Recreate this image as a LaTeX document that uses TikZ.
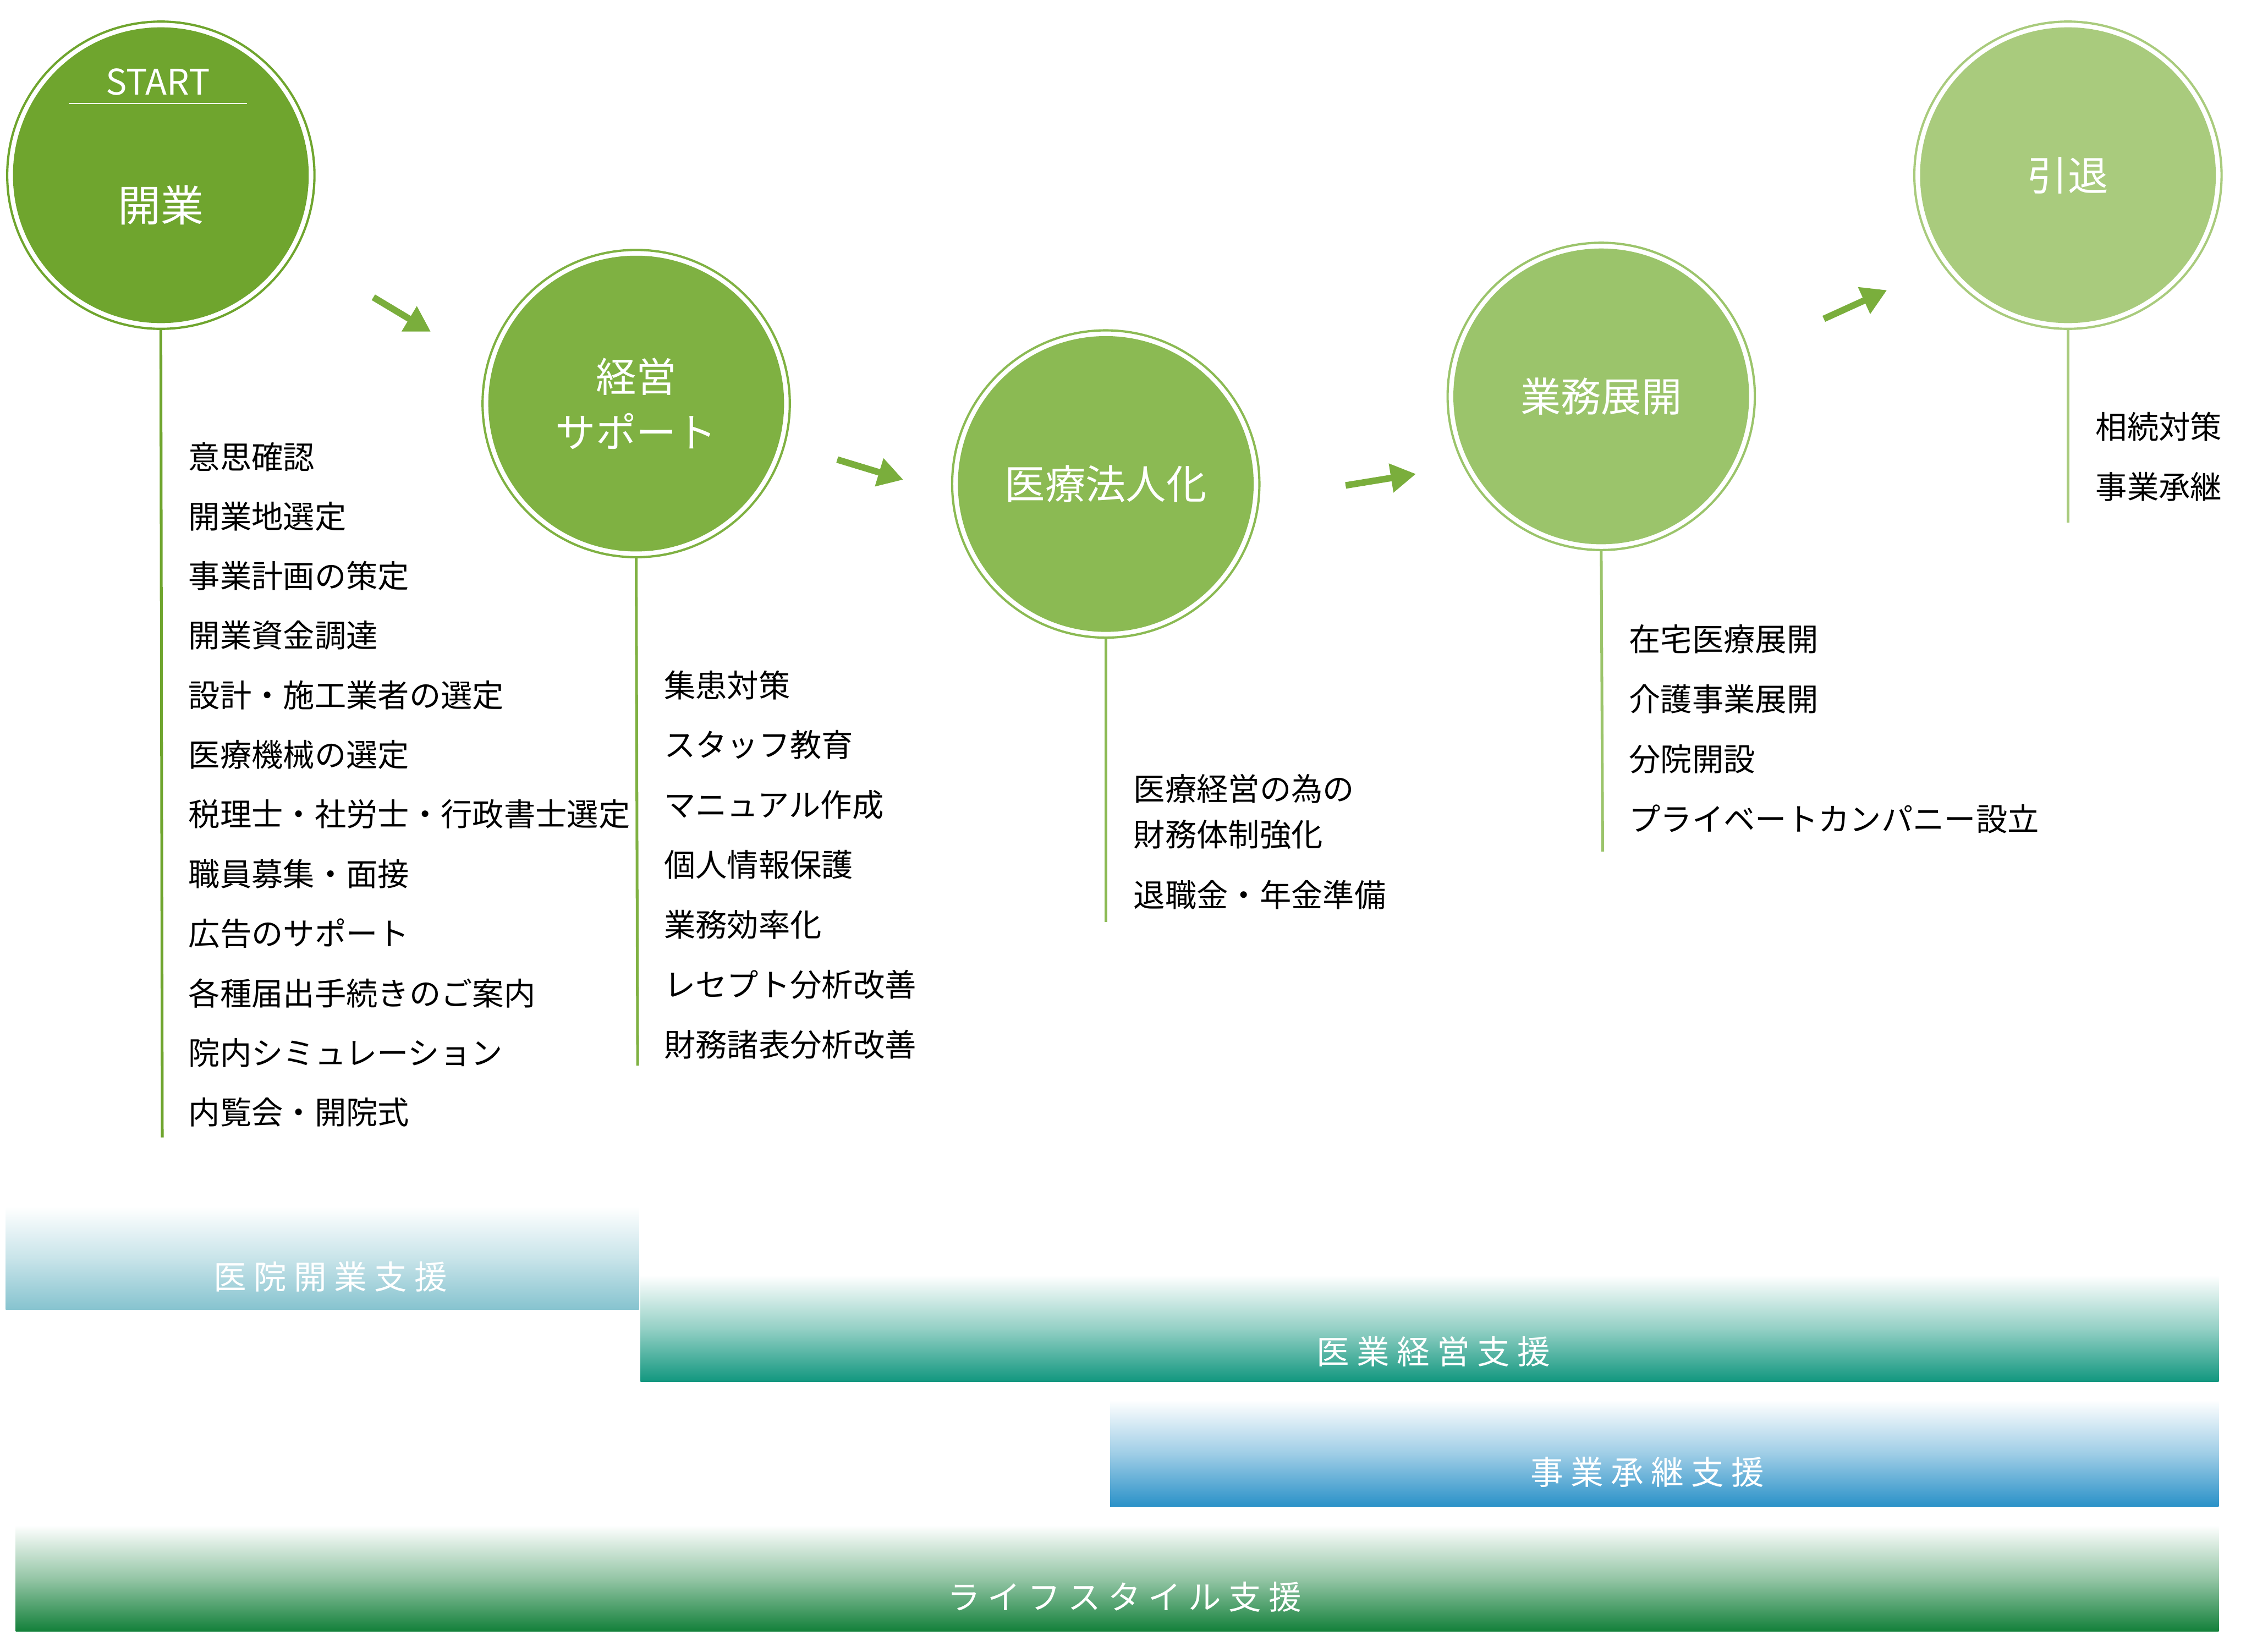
\documentclass[tikz,border=0pt]{standalone}
\usepackage{fontspec}
\setmainfont{Noto Sans CJK JP}
\usetikzlibrary{arrows.meta, positioning}

\definecolor{gA}{HTML}{6FA52E}
\definecolor{gB}{HTML}{7FB142}
\definecolor{gC}{HTML}{8BBA53}
\definecolor{gD}{HTML}{9BC46B}
\definecolor{gE}{HTML}{A9CB7D}
\definecolor{arr}{HTML}{7AAE3C}
\definecolor{barA}{HTML}{86C3CF}
\definecolor{barB}{HTML}{12977F}
\definecolor{barC}{HTML}{2A91C8}
\definecolor{barD}{HTML}{13803A}

\tikzset{
  stage/.style={circle, fill=#1, minimum size=4.12cm, inner sep=0pt, text=white,
    font=\fontsize{16}{20}\selectfont, align=center},
  ring/.style={draw=#1, line width=0.9pt},
  stem/.style={draw=#1, line width=1.1pt},
  item/.style={anchor=west, inner sep=0pt, font=\fontsize{12.5}{15}\selectfont},
  hop/.style={draw=arr, line width=2.6pt, -{Triangle[length=10pt, width=11pt]}},
  band/.style={anchor=center, text=white, font=\fontsize{13}{15}\selectfont}
}

\begin{document}
\begin{tikzpicture}[x=0.02cm, y=-0.02cm]
\useasboundingbox (0,0) rectangle (1564,1150);

% The stages
\node [stage=gA] (kaigyo) at (112,122) {};
\draw [ring=gA] (kaigyo) circle (2.14cm);
\node [text=white, font=\fontsize{14}{16}\selectfont] (start) at (110,57) {START};
\draw [white, line width=0.6pt] (48,72) -- (172,72);
\node [text=white, font=\fontsize{17}{20}\selectfont] (kaigyoT) at (112,143) {開業};

\node [stage=gB] (keiei) at (443,281) {経営\\[2pt]サポート};
\draw [ring=gB] (keiei) circle (2.14cm);

\node [stage=gC] (hojin) at (770,337) {医療法人化};
\draw [ring=gC] (hojin) circle (2.14cm);

\node [stage=gD] (tenkai) at (1115,276) {業務展開};
\draw [ring=gD] (tenkai) circle (2.14cm);

\node [stage=gE] (intai) at (1440,122) {引退};
\draw [ring=gE] (intai) circle (2.14cm);

% The hops between stages
\draw [hop] (260,207) -- (300,231);
\draw [hop] (583,320) -- (629,334);
\draw [hop] (937,338) -- (986,330);
\draw [hop] (1270,222) -- (1314,202);

% The stems
\coordinate (s1) at (113,792);
\coordinate (s2) at (444,742);
\coordinate (s3) at (770,642);
\coordinate (s4) at (1116,593);
\coordinate (s5) at (1440,364);
\draw [stem=gA] (kaigyo.center) ++(0,107) -- (s1);
\draw [stem=gB] (keiei.center) ++(0,107) -- (s2);
\draw [stem=gC] (hojin.center) ++(0,107) -- (s3);
\draw [stem=gD] (tenkai.center) ++(0,107) -- (s4);
\draw [stem=gE] (intai.center) ++(0,107) -- (s5);

% Tasks per stage
\foreach \t [count=\i from 0] in {意思確認, 開業地選定, 事業計画の策定, 開業資金調達,
  設計・施工業者の選定, 医療機械の選定, 税理士・社労士・行政書士選定, 職員募集・面接,
  広告のサポート, 各種届出手続きのご案内, 院内シミュレーション, 内覧会・開院式}
  \node [item] (a\i) at (131,318+41.5*\i) {\t};

\foreach \t [count=\i from 0] in {集患対策, スタッフ教育, マニュアル作成, 個人情報保護,
  業務効率化, レセプト分析改善, 財務諸表分析改善}
  \node [item] (b\i) at (462,477+41.7*\i) {\t};

\node [item] (c0) at (789,549) {医療経営の為の};
\node [item] (c1) at (789,581) {財務体制強化};
\node [item] (c2) at (789,623) {退職金・年金準備};

\foreach \t [count=\i from 0] in {在宅医療展開, 介護事業展開, 分院開設, プライベートカンパニー設立}
  \node [item] (d\i) at (1134,445+41.7*\i) {\t};

\node [item] (e0) at (1459,297) {相続対策};
\node [item] (e1) at (1459,339) {事業承継};

% Support bands
\shade [top color=white, bottom color=barA, middle color=barA!45] (4,840) rectangle (445,912);
\node [band] (bandA) at (230,889) {医 院 開 業 支 援};

\shade [top color=white, bottom color=barB, middle color=barB!45] (446,888) rectangle (1545,962);
\node [band] (bandB) at (998,941) {医 業 経 営 支 援};

\shade [top color=white, bottom color=barC, middle color=barC!45] (773,975) rectangle (1545,1049);
\node [band] (bandC) at (1147,1025) {事 業 承 継 支 援};

\shade [top color=white, bottom color=barD, middle color=barD!45] (11,1062) rectangle (1545,1136);
\node [band] (bandD) at (783,1112) {ラ イ フ ス タ イ ル 支 援};

\end{tikzpicture}
\end{document}
